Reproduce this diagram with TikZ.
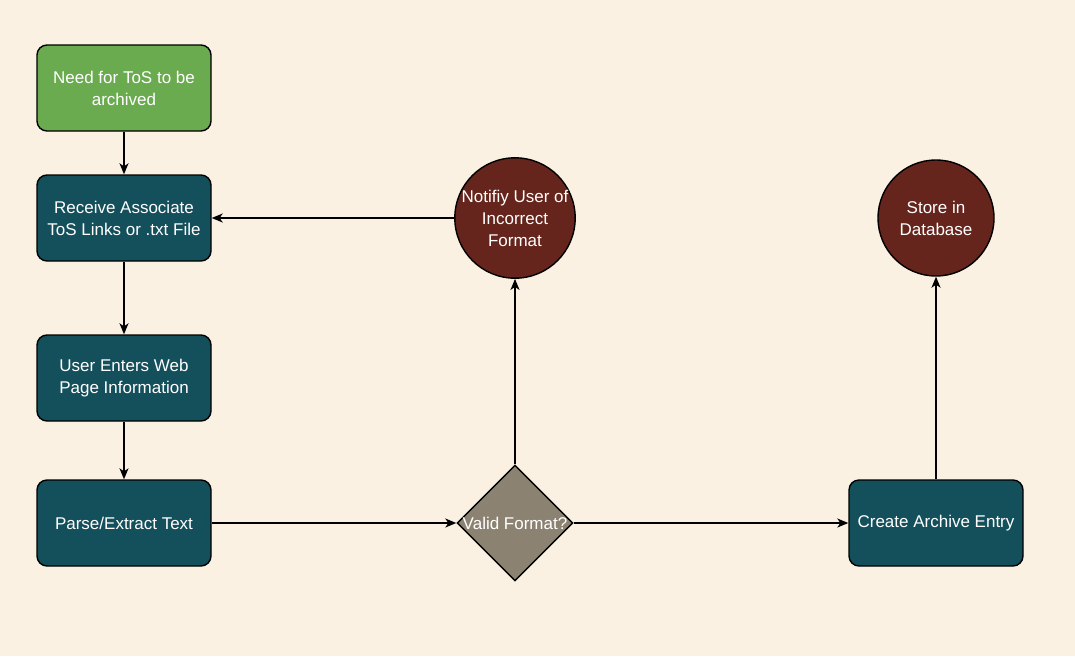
\documentclass[tikz,border=0pt]{standalone}
\usepackage{fontspec}
\setmainfont{Liberation Sans}
\usepackage{xcolor}
\usetikzlibrary{arrows.meta,shapes,calc}
\definecolor{bgcream}{HTML}{FAF1E2}
\definecolor{startgreen}{HTML}{6AAB4F}
\definecolor{stepteal}{HTML}{144F5C}
\definecolor{endred}{HTML}{66251C}
\definecolor{decgray}{HTML}{8C8272}
\begin{document}
\begin{tikzpicture}[x=1pt,y=-1pt,
	box/.style={draw=black,line width=1.4pt,rounded corners=10pt,minimum width=174pt,minimum height=86pt,align=center,text=white,font=\fontsize{17}{22}\selectfont},
	endcircle/.style={draw=black,line width=1.4pt,circle,fill=endred,minimum size=116pt,inner sep=0pt,align=center,text=white,font=\fontsize{17}{22}\selectfont},
	flow/.style={line width=1.4pt,-{Stealth[length=11pt,width=9pt,inset=3pt]}}]
		% Hintergrund
		\fill[bgcream] (0,0) rectangle (1075,656);
		\useasboundingbox (0,0) rectangle (1075,656);
		% linke Spalte
		\node[box,fill=startgreen] (need) at (124,88) {Need for ToS to be\\archived};
		\node[box,fill=stepteal] (receive) at (124,218) {Receive Associate\\ToS Links or .txt File};
		\node[box,fill=stepteal] (enter) at (124,378) {User Enters Web\\Page Information};
		\node[box,fill=stepteal] (parse) at (124,523) {Parse/Extract Text};
		% Entscheidung
		\node[draw=black,line width=1.4pt,diamond,fill=decgray,minimum width=116pt,minimum height=116pt,inner sep=0pt] (valid) at (515,523) {};
		\node[text=white,font=\fontsize{17}{22}\selectfont] at (valid) {Valid Format?};
		\node[endcircle] (notify) at (515,218) {Notifiy User of\\Incorrect\\Format};
		% rechte Spalte
		\node[box,fill=stepteal] (create) at (936,523) {Create Archive Entry};
		\node[endcircle] (store) at (936,218) {Store in\\Database};
		% Pfeile
		\draw[flow] (need) -- (receive);
		\draw[flow] (receive) -- (enter);
		\draw[flow] (enter) -- (parse);
		\draw[flow] (parse) -- (valid);
		\draw[flow] (valid) -- (notify);
		\draw[flow] (notify) -- (receive);
		\draw[flow] (valid) -- (create);
		\draw[flow] (create) -- (store);
\end{tikzpicture}
\end{document}
